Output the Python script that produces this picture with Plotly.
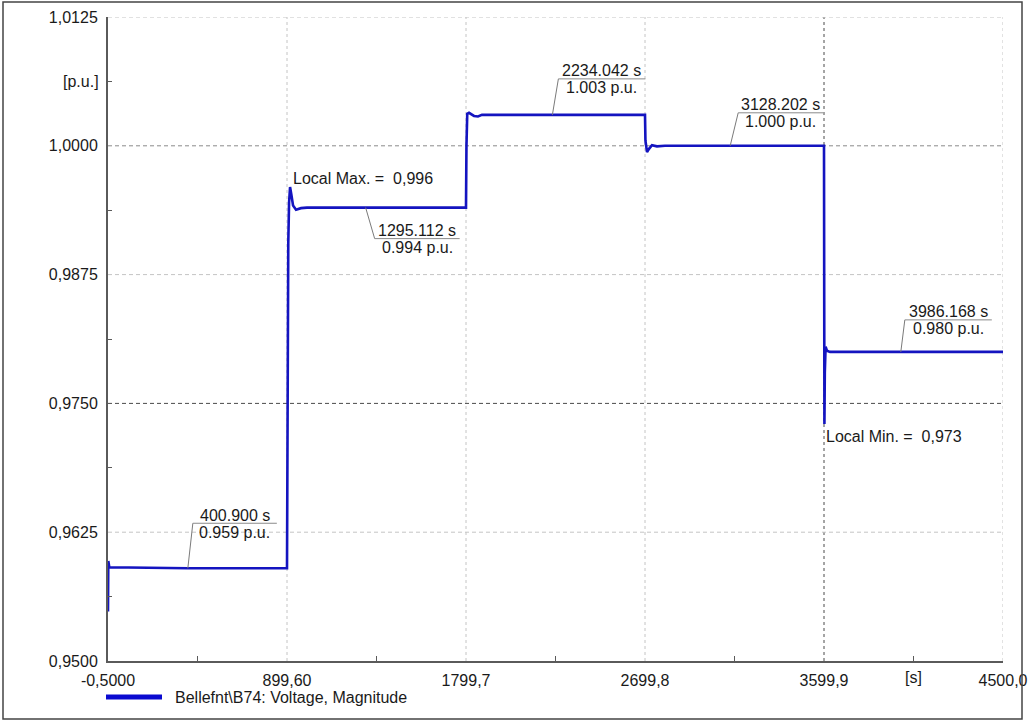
import plotly.graph_objects as go

# Bus voltage magnitude over the simulation (time in s, voltage in p.u.)
time_s = [
    -0.5, 1.0, 6.0, 400.9, 899.6,
    901.0, 903.0, 906.0, 910.0, 915.0, 922.0, 930.0, 945.0, 970.0, 1000.0, 1295.112, 1799.7,
    1802.0, 1806.0, 1815.0, 1840.0, 1860.0, 1880.0, 2234.042, 2699.8,
    2702.0, 2710.0, 2720.0, 2735.0, 2760.0, 2800.0, 3128.202, 3599.9,
    3601.0, 3602.0, 3604.0, 3608.0, 3615.0, 3630.0, 3986.168, 4500.0,
]
voltage_pu = [
    0.9548, 0.9597, 0.9591, 0.959, 0.959,
    0.972, 0.985, 0.9905, 0.9945, 0.996, 0.9952, 0.9942, 0.9938, 0.99395, 0.994, 0.994, 0.994,
    1.000, 1.0031, 1.0032, 1.0029, 1.00285, 1.003, 1.003, 1.003,
    1.0005, 0.9994, 0.9997, 1.00005, 0.99995, 1.000, 1.000, 1.000,
    0.985, 0.973, 0.978, 0.9805, 0.9801, 0.980, 0.980, 0.980,
]

x_tick_vals = [-0.5, 899.6, 1799.7, 2699.8, 3599.9, 4500.0]
x_tick_text = ["-0,5000", "899,60", "1799,7", "2699,8", "3599,9", "4500,0"]
y_tick_vals = [0.95, 0.9625, 0.975, 0.9875, 1.0, 1.0125]
y_tick_text = ["0,9500", "0,9625", "0,9750", "0,9875", "1,0000", "1,0125"]

# Cursor readouts on the curve
marker_time = [400.900, 1295.112, 2234.042, 3128.202, 3986.168]
marker_value = [0.959, 0.994, 1.003, 1.000, 0.980]

local_max_time, local_max_value = 915.0, 0.996
local_min_time, local_min_value = 3602.0, 0.973

series_name = "Bellefnt\\B74: Voltage, Magnitude"

# ---- styling / placement -------------------------------------------------
FONT = "Liberation Sans, Arial, sans-serif"
CURVE = "#1414c0"
LIGHT = "#c4c4c4"
MID = "#8a8a8a"
DARK = "#4a4a4a"
AXIS = "#5a5a5a"

W, H = 1030, 722
L, R, T, B = 108, 27, 17, 61
PW, PH = W - L - R, H - T - B


def px(xp):
    return (xp - L) / PW


def py(yp):
    return (H - B - yp) / PH


# label box placement relative to the cursor point: (dx_left, dx_right, dy) in screen px, y down
label_offsets = [(5, 89, -45), (9, 94, 31), (6, 93, -36), (8, 93, -33), (4, 91, -32)]

fig = go.Figure()
fig.add_trace(go.Scatter(
    x=time_s, y=voltage_pu, mode="lines",
    line=dict(color=CURVE, width=2.6), showlegend=False, hoverinfo="skip",
))

shapes = []
# vertical grid
for xv in x_tick_vals[1:]:
    dark = abs(xv - 3599.9) < 1e-6
    shapes.append(dict(
        type="line", xref="x", yref="paper", x0=xv, x1=xv, y0=0, y1=1, layer="below",
        line=dict(color=DARK if dark else LIGHT, width=1, dash="3px,3px" if dark else "dot"),
    ))
# horizontal grid
for yv in y_tick_vals[1:]:
    if abs(yv - 0.975) < 1e-9:
        col = DARK
    elif abs(yv - 1.0) < 1e-9:
        col = MID
    else:
        col = LIGHT
    shapes.append(dict(
        type="line", xref="paper", yref="y", x0=0, x1=1, y0=yv, y1=yv, layer="below",
        line=dict(color=col, width=1, dash="4px,3px"),
    ))

annotations = []
for t, v, (dx0, dx1, dy) in zip(marker_time, marker_value, label_offsets):
    # leader from the curve point to the label
    shapes.append(dict(
        type="line", xref="x", yref="y", xsizemode="pixel", ysizemode="pixel",
        xanchor=t, yanchor=v, x0=0, y0=0, x1=dx0, y1=-dy,
        line=dict(color="#7a7a7a", width=1),
    ))
    # separator between time and value
    shapes.append(dict(
        type="line", xref="x", yref="y", xsizemode="pixel", ysizemode="pixel",
        xanchor=t, yanchor=v, x0=dx0, y0=-dy, x1=dx1, y1=-dy,
        line=dict(color="#8a8a8a", width=1),
    ))
    cx = (dx0 + dx1) / 2
    annotations.append(dict(
        x=t, y=v, xref="x", yref="y", text=f"{t:.3f} s", showarrow=False,
        xanchor="center", yanchor="middle", xshift=cx, yshift=-(dy - 8),
        font=dict(family=FONT, size=16, color="#1a1a1a"),
    ))
    annotations.append(dict(
        x=t, y=v, xref="x", yref="y", text=f"{v:.3f} p.u.", showarrow=False,
        xanchor="center", yanchor="middle", xshift=cx, yshift=-(dy + 9),
        font=dict(family=FONT, size=16, color="#1a1a1a"),
    ))

annotations.append(dict(
    x=local_max_time, y=local_max_value, xref="x", yref="y",
    text="Local Max. =\u00a0 " + f"{local_max_value:.3f}".replace(".", ","),
    showarrow=False, xanchor="left", yanchor="middle", xshift=1, yshift=9,
    font=dict(family=FONT, size=16, color="#1a1a1a"),
))
annotations.append(dict(
    x=local_min_time, y=local_min_value, xref="x", yref="y",
    text="Local Min. =\u00a0 " + f"{local_min_value:.3f}".replace(".", ","),
    showarrow=False, xanchor="left", yanchor="middle", xshift=0, yshift=-12,
    font=dict(family=FONT, size=16, color="#1a1a1a"),
))

# unit labels on the axes
annotations.append(dict(
    x=4050.05, y=py(677), xref="x", yref="paper", text="[s]", showarrow=False,
    xanchor="center", yanchor="middle", font=dict(family=FONT, size=16, color="#1a1a1a"),
))
annotations.append(dict(
    x=px(101), y=1.00625, xref="paper", yref="y", text="[p.u.]", showarrow=False,
    xanchor="right", yanchor="middle", font=dict(family=FONT, size=16, color="#1a1a1a"),
))

# legend entry
shapes.append(dict(
    type="line", xref="paper", yref="paper", x0=px(106), x1=px(162), y0=py(697), y1=py(697),
    line=dict(color="#0a0ad0", width=5),
))
annotations.append(dict(
    x=px(173), y=py(697), xref="paper", yref="paper", text=series_name, showarrow=False,
    xanchor="left", yanchor="middle", font=dict(family=FONT, size=16, color="#1a1a1a"),
))

# outer frame
shapes.append(dict(
    type="rect", xref="paper", yref="paper", x0=px(3), x1=px(1022), y0=py(719), y1=py(2),
    line=dict(color="#444444", width=1.5), fillcolor="rgba(0,0,0,0)",
))

x_minor = [(a + b) / 2 for a, b in zip(x_tick_vals[:-1], x_tick_vals[1:])]
y_minor = [(a + b) / 2 for a, b in zip(y_tick_vals[:-1], y_tick_vals[1:])]

fig.update_layout(
    width=W, height=H, autosize=False,
    margin=dict(l=L, r=R, t=T, b=B, pad=0, autoexpand=False),
    paper_bgcolor="white", plot_bgcolor="white",
    font=dict(family=FONT, size=16, color="#1a1a1a"),
    shapes=shapes, annotations=annotations, showlegend=False,
    xaxis=dict(
        range=[-0.5, 4500.0], tickmode="array", tickvals=x_tick_vals, ticktext=x_tick_text,
        showgrid=False, zeroline=False, showline=True, linecolor=AXIS, linewidth=2,
        ticks="", ticklabelstandoff=4, automargin=False,
        minor=dict(tickvals=x_minor, ticks="inside", ticklen=5, tickcolor=AXIS, showgrid=False),
    ),
    yaxis=dict(
        range=[0.95, 1.0125], tickmode="array", tickvals=y_tick_vals, ticktext=y_tick_text,
        showgrid=False, zeroline=False, showline=True, linecolor=AXIS, linewidth=2,
        ticks="", ticklabelstandoff=5, automargin=False,
        minor=dict(tickvals=y_minor, ticks="inside", ticklen=4, tickcolor=AXIS, showgrid=False),
    ),
)

fig.write_html("out.html")
